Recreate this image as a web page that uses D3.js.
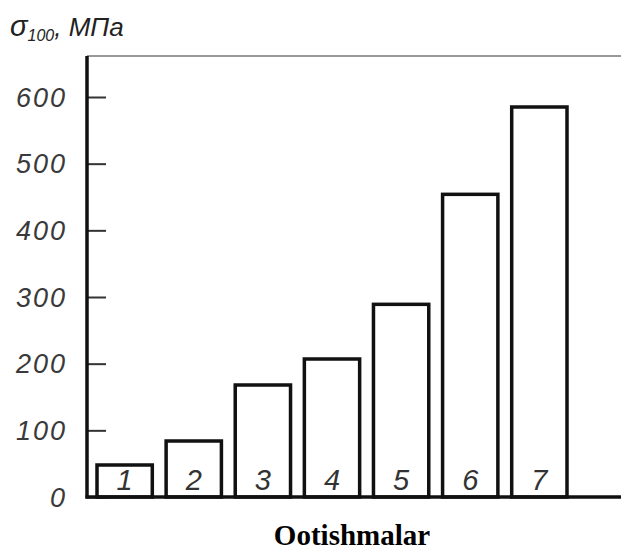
<!DOCTYPE html>
<html><head><meta charset="utf-8">
<script src="https://cdn.jsdelivr.net/npm/d3@7"></script>
<style>body{margin:0;background:#fff}</style>
</head><body>
<script>
const categories = ["1","2","3","4","5","6","7"];
const values = [48, 84, 168, 207, 289, 454, 585];
const yTicks = [0, 100, 200, 300, 400, 500, 600];
const yLabelMain = "σ";
const yLabelSub = "100";
const yLabelUnit = ", МПа";
const xTitle = "Ootishmalar";

const W = 621, H = 550;
const svg = d3.select("body").append("svg").attr("width", W).attr("height", H);

const axisX = 87, baseY = 497, topY = 56;
const y = d3.scaleLinear().domain([0, 600]).range([baseY, 97]);
const x = d3.scaleBand().domain(categories).range([97, 567]).paddingInner(0.2).paddingOuter(0);

// top frame line (faint)
svg.append("line").attr("x1", axisX).attr("x2", W).attr("y1", topY).attr("y2", topY)
  .attr("stroke", "#777").attr("stroke-width", 1.5);

// y axis via d3.axisRight (ticks pointing inward)
const yAxis = d3.axisRight(y).tickValues(yTicks).tickSize(19).tickFormat("");
const gy = svg.append("g").attr("transform", `translate(${axisX},0)`).call(yAxis);
gy.select(".domain").remove();
gy.selectAll(".tick line").attr("stroke", "#333").attr("stroke-width", 2);
svg.append("line").attr("x1", axisX).attr("x2", axisX).attr("y1", topY).attr("y2", baseY + 1.5)
  .attr("stroke", "#111").attr("stroke-width", 3.5);

// tick labels
svg.append("g").selectAll("text").data(yTicks).join("text")
  .attr("x", 67).attr("y", d => y(d)).attr("dy", "0.36em")
  .attr("text-anchor", "end")
  .attr("font-family", "Liberation Sans, Arial, sans-serif")
  .attr("font-style", "italic").attr("font-size", 27).attr("letter-spacing", 2)
  .attr("fill", "#3a3a3a").text(d => d);

// bars
svg.append("g").selectAll("rect").data(values).join("rect")
  .attr("x", (d, i) => x(categories[i]))
  .attr("y", d => y(d))
  .attr("width", x.bandwidth())
  .attr("height", d => baseY - y(d))
  .attr("fill", "none").attr("stroke", "#111").attr("stroke-width", 3.5);

// bar labels
svg.append("g").selectAll("text").data(categories).join("text")
  .attr("x", d => x(d) + x.bandwidth() / 2).attr("y", 490)
  .attr("text-anchor", "middle")
  .attr("font-family", "Liberation Sans, Arial, sans-serif")
  .attr("font-style", "italic").attr("font-size", 29)
  .attr("fill", "#333").text(d => d);

// baseline
svg.append("line").attr("x1", axisX - 1.5).attr("x2", W).attr("y1", baseY).attr("y2", baseY)
  .attr("stroke", "#111").attr("stroke-width", 3.5);

// y label
const yl = svg.append("text").attr("x", 10).attr("y", 36)
  .attr("font-family", "Liberation Sans, Arial, sans-serif")
  .attr("font-style", "italic").attr("fill", "#222");
yl.append("tspan").attr("font-size", 29).text(yLabelMain);
yl.append("tspan").attr("font-size", 16).attr("dy", 5).text(yLabelSub);
yl.append("tspan").attr("font-size", 26).attr("dy", -5).text(yLabelUnit);

// x title
svg.append("text").attr("x", 352).attr("y", 545).attr("text-anchor", "middle")
  .attr("font-family", "Liberation Serif, Times New Roman, serif")
  .attr("font-weight", "bold").attr("font-size", 29).attr("fill", "#000").text(xTitle);
</script>
</body></html>
